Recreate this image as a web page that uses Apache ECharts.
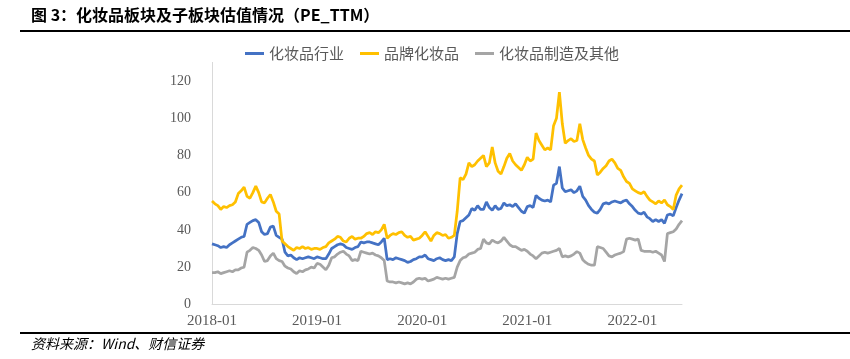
<!DOCTYPE html>
<html>
<head>
<meta charset="utf-8">
<script src="https://cdn.jsdelivr.net/npm/echarts@6/dist/echarts.min.js"></script>
<style>
html,body{margin:0;padding:0;background:#fff;}
#main{width:850px;height:359px;}
</style>
</head>
<body>
<div id="main"></div>
<script>
// ---- data (3 readings per month, 2018-01 .. 2022-06) ----
var startYear = 2018, monthCount = 54, daysInMonth = ['01', '11', '21'];
var tickLabels = ['2018-01', '2019-01', '2020-01', '2021-01', '2022-01'];
var yTicks = [0, 20, 40, 60, 80, 100, 120];
var seriesNames = ['化妆品行业', '品牌化妆品', '化妆品制造及其他'];

var industry = [
 32.5,32,31.5, 30.5,31,30.5, 32,33,34, 35,36,36.5, 43,44,45, 45.5,44,39, 37.5,38,41.5, 42,37,36, 35,28,26, 26.5,25,24, 25,24.5,25, 25.5,25,24.5,
 25.5,25,24.5, 24.5,27,30, 31,32,32.5, 32,30.5,30, 29.5,30.5,31, 33.5,33,33.5, 33.5,33,32.5, 32,33.5,35.5, 24,24.5,24, 25,24.5,24, 23.5,22.5,23, 24,24.5,25.5,
 25.5,26.5,24.5, 24,23.5,24.5, 25,24,23.5, 24,23.5,25.5, 38,44.5,45, 46.5,48,51.5, 50.5,53,51, 51,55,52, 50.5,53,51, 51.5,54.5,53, 53.5,52.5,54, 52,50,49,
 52.5,53,52, 58.5,57,56, 55.5,56,55, 64,65,74, 62.5,60.5,61, 61.5,60,61, 63.5,58,56, 53,51,49.5, 49,51,54, 54.5,54,55, 55.5,55,54.5, 55.5,56,54,
 52.5,50.5,49, 48.5,49.5,47, 46,44.5,45.5, 44.5,45.5,43.5, 48,48.5,47.5, 52,56,59.5
];
var brand = [
 55.5,54,53, 51,52.5,52, 53,53.5,55, 59.5,61,63, 58,57,60, 63.5,60,55, 54.5,57,59, 55,50,48.5, 34,32.5,31, 30,29,30.5, 30,31,30, 30.5,29.5,30,
 30,29.5,30.5, 31,33,34, 35,36.5,36, 34,33.5,35.5, 36.5,35,35.5, 35.5,36.5,38, 38.5,37.5,39, 38.5,40,43, 35.5,37,38, 37.5,38.5,39, 37,36,36.5, 34.5,35,35.5,
 37,39,36.5, 34,37,38.5, 38,37,37.5, 35.5,36,37, 50,68,67, 70,76,74, 75,77,78.5, 80,74,76, 84.5,76,71.5, 70,74,78.5, 81,77,75, 73.5,72,75,
 79,77,78, 92,88,85.5, 83,84,83, 96,100,114, 97,86.5,88, 89,87.5,88, 97,88.5,84, 80,78,77, 69.5,71,73, 74.5,77,78, 76,73,72, 68.5,66,65,
 62,61,60, 59.5,60.5,58, 56,55,54, 55.5,54.5,56, 53.5,52.5,51, 58.7,62,64
];
var other = [
 17,17,17.5, 16.5,17,17.5, 18,17.5,18.5, 18.5,19.5,20, 28,29,30.5, 30,29,26.5, 23,23.5,26, 27.5,24.5,23.5, 23,20.5,19.5, 19,17.5,16.5, 18,17.5,18.5, 19,20,19.5,
 22,21.5,20, 18.5,21,25, 25.5,27,28, 28.5,27,26, 23.5,24,23.5, 28.5,28,27.5, 27,27.5,26.5, 26,25,23.5, 12.5,12,12, 11.5,12,11.5, 11,11.5,11, 12,13.5,14,
 13.5,14,12.5, 13,13.5,14.5, 14,13.5,14, 13.5,14,14.5, 20,23.5,25, 25.5,27,27.5, 28,29.5,30, 35,33,32.5, 34.5,33.5,33, 34,36,34, 32,31,31, 30,29,29.5,
 28.5,27,26, 24.5,26,27.5, 28,27.5,28, 28.5,29,30, 25.5,26,25.5, 26,27,28.3, 27.5,24,22.5, 21.5,21,21, 31,30.5,30, 28,26,25.5, 26.5,27,27.5, 28.3,35,35.5,
 35,34.5,35, 29,28.5,28.5, 28.5,28,28.5, 27.5,26.5,23, 38,38.5,39, 40.5,43,45
];

// category dates
var dates = [];
for (var m = 0; m < monthCount; m++) {
  var y = startYear + Math.floor(m / 12), mo = (m % 12) + 1;
  for (var d = 0; d < daysInMonth.length; d++) {
    dates.push(y + '-' + (mo < 10 ? '0' + mo : mo) + '-' + daysInMonth[d]);
  }
}

var chart = echarts.init(document.getElementById('main'), null, {renderer: 'canvas'});
var cjk = '"Noto Sans CJK SC", "Noto Sans", sans-serif';
var serif = '"Liberation Serif", "DejaVu Serif", serif';

chart.setOption({
  animation: false,
  backgroundColor: '#ffffff',
  color: ['#4472C4', '#FFC000', '#A5A5A5'],
  legend: {
    data: seriesNames,
    left: 240,
    top: 41,
    icon: 'rect',
    itemWidth: 19,
    itemHeight: 3,
    itemGap: 16,
    textStyle: {fontFamily: cjk, fontSize: 15, color: '#595959'}
  },
  grid: {left: 212, right: 168, top: 62.4, bottom: 54.7, containLabel: false},
  xAxis: {
    type: 'category',
    data: dates,
    boundaryGap: false,
    axisLine: {show: true, lineStyle: {color: '#D9D9D9', width: 1}},
    axisTick: {show: false},
    splitLine: {show: false},
    axisLabel: {
      interval: function (idx) { return idx % 36 === 0; },
      formatter: function (v) {
        var s = v.slice(0, 7);
        return tickLabels.indexOf(s) >= 0 ? s : '';
      },
      fontFamily: serif, fontSize: 15, color: '#595959', margin: 9
    }
  },
  yAxis: {
    type: 'value',
    min: 0, max: 130, interval: 20,
    axisLine: {show: true, lineStyle: {color: '#D9D9D9', width: 1}},
    axisTick: {show: false},
    splitLine: {show: false},
    axisLabel: {
      showMaxLabel: false,
      formatter: function (v) { return yTicks.indexOf(v) >= 0 ? String(v) : ''; },
      fontFamily: serif, fontSize: 14, color: '#595959', margin: 21
    }
  },
  series: [
    {name: seriesNames[0], type: 'line', data: industry, showSymbol: false, lineStyle: {width: 2.75}, z: 2},
    {name: seriesNames[1], type: 'line', data: brand, showSymbol: false, lineStyle: {width: 2.75}, z: 3},
    {name: seriesNames[2], type: 'line', data: other, showSymbol: false, lineStyle: {width: 2.75}, z: 4}
  ],
  graphic: [
    {type: 'text', left: 31, top: 7, style: {text: '图 3：化妆品板块及子板块估值情况（PE_TTM）', font: 'bold 16px ' + cjk, fill: '#000'}},
    {type: 'line', shape: {x1: 20, y1: 31, x2: 850, y2: 31}, style: {stroke: '#000', lineWidth: 2}},
    {type: 'line', shape: {x1: 20, y1: 333, x2: 850, y2: 333}, style: {stroke: '#000', lineWidth: 2}},
    {type: 'text', left: 31, top: 337, style: {text: '资料来源：Wind、财信证券', font: 'italic 14px ' + cjk, fill: '#000'}}
  ]
});
</script>
</body>
</html>
